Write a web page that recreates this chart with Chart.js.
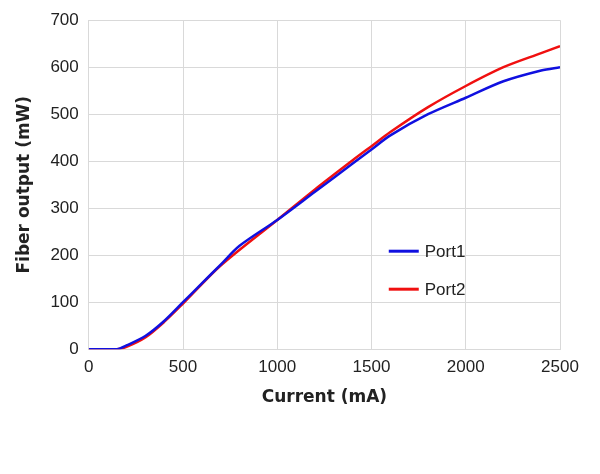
<!DOCTYPE html>
<html><head><meta charset="utf-8">
<script src="https://cdn.jsdelivr.net/npm/chart.js@4"></script>
<style>html,body{margin:0;background:#fff}</style>
</head><body><canvas id="c" width="600" height="474"></canvas>
<script>
const xTicks = [0, 500, 1000, 1500, 2000, 2500]
const port1 = [[0,0],[150,0],[200,8],[300,28],[400,60],[500,100],[600,140],[700,180],[800,220],[1000,275],[1200,335],[1400,395],[1500,425],[1600,455],[1800,500],[2000,535],[2200,570],[2400,593],[2500,600]]
const port2 = [[0,0],[150,0],[200,5],[300,25],[400,58],[500,97],[700,178],[1000,275],[1200,340],[1400,402],[1500,432],[1600,462],[1800,515],[2000,560],[2200,600],[2400,630],[2500,645]]
const seriesNames = ['Port1', 'Port2']
const colors = ['#1010e0', '#f01010']

const toPts = arr => arr.map(p => ({x: p[0], y: p[1]}))

const insideLegend = {
  id: 'insideLegend',
  afterDraw(chart) {
    const ctx = chart.ctx
    const a = chart.chartArea
    seriesNames.forEach((name, i) => {
      const y = a.top + 231 + i * 38
      const x0 = a.left + 300
      ctx.save()
      ctx.strokeStyle = colors[i]
      ctx.lineWidth = 3
      ctx.beginPath(); ctx.moveTo(x0, y); ctx.lineTo(x0 + 30, y); ctx.stroke()
      ctx.fillStyle = '#222'
      ctx.font = '17px "Liberation Sans", Arial, sans-serif'
      ctx.textBaseline = 'middle'
      ctx.fillText(name, x0 + 36, y + 1)
      ctx.restore()
    })
  }
}

new Chart(document.getElementById('c'), {
  type: 'line',
  data: {
    datasets: [
      {label: seriesNames[0], data: toPts(port1), borderColor: colors[0], borderWidth: 2.5, pointRadius: 0, tension: 0.3},
      {label: seriesNames[1], data: toPts(port2), borderColor: colors[1], borderWidth: 2.5, pointRadius: 0, tension: 0.3}
    ]
  },
  options: {
    responsive: false,
    animation: false,
    layout: {padding: {top: 20, right: 40, bottom: 62, left: 10}},
    plugins: {legend: {display: false}, tooltip: {enabled: false}},
    scales: {
      x: {
        type: 'linear', min: 0, max: 2500,
        afterBuildTicks: s => { s.ticks = xTicks.map(v => ({value: v})) },
        grid: {color: '#d9d9d9', drawTicks: false},
        border: {color: '#d9d9d9'},
        ticks: {color: '#222', font: {size: 17, family: '"Liberation Sans", Arial'}, padding: 8, maxRotation: 0, callback: v => String(v)},
        title: {display: true, text: 'Current (mA)', color: '#222', font: {size: 17, weight: 'bold', family: '"DejaVu Sans", Verdana'}, padding: {top: 2}}
      },
      y: {
        min: 0, max: 700,
        grid: {color: '#d9d9d9', drawTicks: false},
        border: {color: '#d9d9d9'},
        ticks: {stepSize: 100, color: '#222', font: {size: 17, family: '"Liberation Sans", Arial'}, padding: 10, callback: v => String(v)},
        title: {display: true, text: 'Fiber output (mW)', color: '#222', font: {size: 17, weight: 'bold', family: '"DejaVu Sans", Verdana'}, padding: {bottom: 6}}
      }
    }
  },
  plugins: [insideLegend]
})
</script>
</body></html>
